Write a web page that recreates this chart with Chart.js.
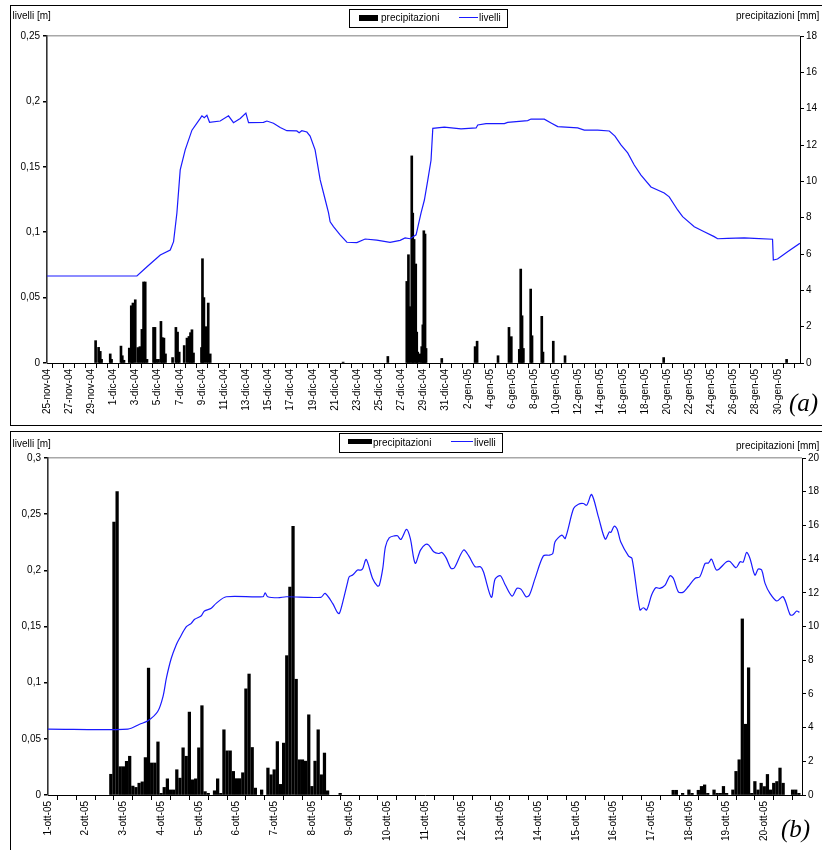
<!DOCTYPE html>
<html>
<head>
<meta charset="utf-8">
<script src="https://cdn.jsdelivr.net/npm/chart.js"></script>
<style>
  body { margin: 0; background: #fff; width: 822px; height: 850px; overflow: hidden; position: relative;
         font-family: "Liberation Sans", Arial, sans-serif; }
  canvas { position: absolute; left: 0; }
  .frame { position: absolute; border: 1.5px solid #000; box-sizing: border-box; }
  .txt { position: absolute; font-size: 10px; line-height: 12px; white-space: nowrap; color: #000; }
  .box { position: absolute; border: 1px solid #000; box-sizing: border-box; background: #fff; }
  .sw { position: absolute; background: #000; }
  .ln { position: absolute; background: #1a1aff; height: 1.3px; }
  .tag { position: absolute; font-family: "Liberation Serif", "Times New Roman", serif; font-style: italic;
         font-size: 25px; line-height: 28px; color: #000; }
</style>
</head>
<body>
<div class="frame" style="left:10px;top:5px;width:840px;height:421px"></div>
<div class="frame" style="left:10px;top:430.5px;width:840px;height:440px"></div>

<canvas id="chartA" width="822" height="428" style="top:0"></canvas>
<canvas id="chartB" width="822" height="422" style="top:428px"></canvas>

<!-- chart (a) texts / legend -->
<div class="txt" style="left:12.5px;top:10px">livelli [m]</div>
<div class="txt" style="left:736px;top:10px">precipitazioni [mm]</div>
<div class="box" style="left:349px;top:9px;width:159px;height:18.5px"></div>
<div class="sw" style="left:359px;top:14.7px;width:19px;height:6.5px"></div>
<div class="txt" style="left:381px;top:12px">precipitazioni</div>
<div class="ln" style="left:458.7px;top:17.2px;width:19px"></div>
<div class="txt" style="left:479px;top:12px">livelli</div>
<div class="tag" style="left:789px;top:389px">(a)</div>

<!-- chart (b) texts / legend -->
<div class="txt" style="left:12.5px;top:437.5px">livelli [m]</div>
<div class="txt" style="left:736px;top:439.7px">precipitazioni [mm]</div>
<div class="box" style="left:339px;top:433px;width:164px;height:19.5px"></div>
<div class="sw" style="left:348.3px;top:439.3px;width:23.4px;height:4.8px"></div>
<div class="txt" style="left:373px;top:436.5px">precipitazioni</div>
<div class="ln" style="left:451px;top:441.2px;width:21.7px"></div>
<div class="txt" style="left:474px;top:436.5px">livelli</div>
<div class="tag" style="left:781px;top:815px">(b)</div>

<script>
// ---- (a) 25-nov-04 .. 31-gen-05, x in days from 25-nov-04 00:00 ----
const dateLabelsA = ['25-nov-04','27-nov-04','29-nov-04','1-dic-04','3-dic-04','5-dic-04','7-dic-04',
  '9-dic-04','11-dic-04','13-dic-04','15-dic-04','17-dic-04','19-dic-04','21-dic-04','23-dic-04',
  '25-dic-04','27-dic-04','29-dic-04','31-dic-04','2-gen-05','4-gen-05','6-gen-05','8-gen-05',
  '10-gen-05','12-gen-05','14-gen-05','16-gen-05','18-gen-05','20-gen-05','22-gen-05','24-gen-05',
  '26-gen-05','28-gen-05','30-gen-05'];

const levelDaysA = [0, 8.12, 9.03, 10.23, 11.13, 11.43, 11.73, 12.03, 12.48, 13.09, 13.84, 13.99, 14.2,
  14.44, 14.68, 15.64, 16.39, 16.84, 17.45, 17.96, 18.2, 19.55, 19.86, 20.45, 21.06, 21.66, 22.56,
  22.77, 23.01, 23.47, 23.76, 24.21, 24.67, 25.12, 25.42, 25.57, 25.87, 26.47, 27.08, 27.98, 28.73,
  29.78, 30.98, 31.89, 32.34, 32.79, 33.33, 33.78, 34.08, 34.39, 34.68, 34.84, 35.88, 37.39, 38.75,
  38.9, 39.65, 41.3, 41.6, 43.41, 43.71, 44.91, 45.52, 46.12, 47.92, 48.52, 49.73, 50.78, 51.29,
  51.83, 52.44, 53.03, 53.64, 54.54, 55.74, 56.19, 56.95, 57.4, 58.45, 59.35, 60.25, 60.56, 61.46,
  62.96, 63.86, 65.52, 65.59, 65.97, 66.88, 67.99];
const levelA = [0.0665, 0.0665, 0.0736, 0.0826, 0.0864, 0.0928, 0.1147, 0.1476, 0.163, 0.178, 0.187,
  0.189, 0.1875, 0.1893, 0.184, 0.185, 0.189, 0.1837, 0.187, 0.191, 0.1837, 0.184, 0.185, 0.1833, 0.18,
  0.1776, 0.1774, 0.176, 0.1776, 0.1766, 0.1735, 0.163, 0.14, 0.125, 0.115, 0.108, 0.1042, 0.0979,
  0.0923, 0.092, 0.0948, 0.094, 0.0923, 0.0938, 0.0956, 0.095, 0.098, 0.1147, 0.1246, 0.14, 0.155,
  0.1794, 0.1804, 0.179, 0.1797, 0.182, 0.183, 0.183, 0.184, 0.1853, 0.1865, 0.1864, 0.1835, 0.1807,
  0.1797, 0.178, 0.178, 0.1774, 0.1735, 0.1667, 0.1606, 0.1514, 0.1437, 0.1346, 0.13, 0.127, 0.117,
  0.1119, 0.1042, 0.1004, 0.0966, 0.095, 0.0953, 0.0956, 0.0953, 0.0946, 0.0787, 0.0795, 0.0851, 0.0915];

const rainDaysA = [4.39, 4.66, 4.81, 4.93, 5.71, 5.83, 6.68, 6.8, 6.95, 7.43, 7.61, 7.7, 7.76, 7.97,
  8.21, 8.39, 8.57, 8.72, 8.87, 9.03, 9.62, 9.75, 9.89, 10.07, 10.29, 10.41, 10.56, 10.7, 11.34, 11.64,
  11.79, 11.94, 12.39, 12.64, 12.82, 12.96, 13.09, 13.23, 13.95, 14.04, 14.17, 14.38, 14.56, 14.74,
  26.74, 30.78, 32.49, 32.64, 32.76, 32.94, 33.03, 33.15, 33.3, 33.39, 33.48, 33.69, 33.84, 33.94,
  34.03, 34.14, 34.23, 35.65, 38.66, 38.84, 40.73, 41.72, 41.93, 42.65, 42.78, 42.9, 43.02, 43.68,
  43.8, 44.68, 44.79, 45.72, 46.78, 55.69, 66.79];
const rainA = [1.23, 0.86, 0.64, 0.2, 0.5, 0.2, 0.93, 0.4, 0.15, 0.82, 3.15, 1.83, 3.3, 3.48,
  0.85, 0.9, 1.85, 4.46, 4.46, 0.2, 1.96, 1.96, 0.2, 0.2, 2.29, 1.4, 1.37, 0.5, 0.3, 1.96,
  1.7, 0.6, 0.96, 1.37, 1.46, 1.67, 1.83, 0.55, 0.85, 5.74, 3.6, 2.0, 3.3, 0.5,
  0.05, 0.36, 4.49, 5.96, 3.1, 11.4, 8.25, 6.8, 5.45, 1.7, 0.6, 0.5, 0.9, 2.1,
  7.28, 7.1, 0.8, 0.25, 0.9, 1.2, 0.4, 1.96, 1.45, 0.75, 5.17, 2.6, 0.8, 4.07,
  1.5, 2.57, 0.6, 1.2, 0.4, 0.3, 0.2];

// ---- (b) 1-ott-05 .. 20-ott-05, x in days from 1-ott-05 00:00 ----
const dateLabelsB = ['1-ott-05','2-ott-05','3-ott-05','4-ott-05','5-ott-05','6-ott-05','7-ott-05',
  '8-ott-05','9-ott-05','10-ott-05','11-ott-05','12-ott-05','13-ott-05','14-ott-05','15-ott-05',
  '16-ott-05','17-ott-05','18-ott-05','19-ott-05','20-ott-05'];

const levelDaysB = [0, 2.12, 2.43, 2.65, 2.91, 3.05, 3.14, 3.27, 3.4, 3.49, 3.67, 3.8, 3.89, 4.06, 4.15,
  4.33, 4.46, 4.73, 5.7, 5.76, 5.83, 6.1, 6.32, 7.24, 7.35, 7.55, 7.68, 7.73, 7.82, 7.95, 7.99, 8.08,
  8.21, 8.3, 8.35, 8.44, 8.61, 8.74, 8.79, 8.88, 8.95, 9.05, 9.19, 9.27, 9.36, 9.51, 9.61, 9.74, 9.88,
  10.01, 10.1, 10.23, 10.36, 10.45, 10.56, 10.69, 10.78, 11.02, 11.16, 11.33, 11.47, 11.55, 11.76,
  11.86, 12.0, 12.13, 12.31, 12.44, 12.55, 12.68, 12.77, 12.92, 13.14, 13.3, 13.39, 13.45, 13.63,
  13.72, 13.94, 14.07, 14.2, 14.29, 14.42, 14.6, 14.78, 14.89, 14.93, 15.02, 15.1, 15.19, 15.4,
  15.49, 15.7, 15.79, 15.88, 16.01, 16.12, 16.23, 16.37, 16.5, 16.59, 16.72, 16.84, 16.98, 17.16,
  17.29, 17.43, 17.52, 17.6, 17.74, 18.0, 18.09, 18.25, 18.36, 18.44, 18.53, 18.62, 18.75, 18.84,
  18.93, 19.02, 19.15, 19.33, 19.5, 19.68, 19.75, 19.86, 19.93];
const levelB = [0.0587, 0.0587, 0.063, 0.066, 0.0743, 0.0876, 0.104, 0.1217, 0.1336, 0.1395, 0.1498,
  0.1528, 0.1564, 0.1593, 0.1638, 0.1662, 0.1706, 0.1765, 0.1765, 0.18, 0.1765, 0.1756, 0.1765, 0.176,
  0.1795, 0.1706, 0.1623, 0.1617, 0.172, 0.1898, 0.1943, 0.1958, 0.2002, 0.2002, 0.2017, 0.2097,
  0.1928, 0.186, 0.1869, 0.2017, 0.2209, 0.2289, 0.2307, 0.2307, 0.2275, 0.2364, 0.2284, 0.2062, 0.218,
  0.223, 0.2224, 0.2165, 0.215, 0.2159, 0.2111, 0.2017, 0.2023, 0.218, 0.2129, 0.2032, 0.2032, 0.1987,
  0.176, 0.1922, 0.1952, 0.1869, 0.1771, 0.184, 0.1831, 0.1765, 0.178, 0.1928, 0.2129, 0.2135, 0.215,
  0.2254, 0.2313, 0.2284, 0.255, 0.2589, 0.2595, 0.258, 0.2675, 0.2476, 0.2278, 0.2343, 0.2337,
  0.2393, 0.2364, 0.2254, 0.2127, 0.2106, 0.1647, 0.1667, 0.1647, 0.178, 0.1845, 0.184, 0.1869,
  0.1952, 0.1928, 0.1809, 0.1804, 0.1854, 0.1928, 0.1943, 0.2062, 0.2065, 0.21, 0.2002, 0.2076,
  0.2079, 0.2023, 0.2076, 0.2073, 0.2159, 0.2106, 0.1958, 0.2011, 0.2002, 0.1884, 0.1795, 0.1727,
  0.1765, 0.1608, 0.1602, 0.1638, 0.1626];

// rain (b) every 2 hours: hour from 1-ott-05 00:00
const rainHoursB = [40, 42, 44, 46, 48, 50, 52, 54, 56, 58, 60, 62, 64, 66, 68, 70, 72, 74, 76, 78, 80,
  82, 84, 86, 88, 90, 92, 94, 96, 98, 100, 102, 106, 108, 110, 112, 114, 116, 118, 120, 122, 124, 126,
  128, 130, 132, 136, 140, 142, 144, 146, 148, 150, 152, 154, 156, 158, 160, 162, 164, 166, 168, 170,
  172, 174, 176, 178, 186,
  398, 400, 404, 408, 410, 414, 416, 418, 420, 424, 426, 428, 430, 432, 436, 438, 440, 442, 444, 446,
  448, 450, 452, 454, 456, 458, 460, 462, 464, 466, 468, 474, 476, 478];
const rainB = [1.23, 16.2, 18.0, 1.68, 1.68, 2.0, 2.3, 0.53, 0.45, 0.7, 0.78, 2.22, 7.53, 1.9, 1.9,
  3.15, 0.1, 0.45, 0.96, 0.3, 0.3, 1.5, 1.0, 2.8, 2.3, 4.92, 0.9, 0.96, 2.8, 5.3, 0.2, 0.1, 0.25,
  0.96, 0.1, 3.87, 2.62, 2.62, 1.4, 0.97, 0.97, 1.32, 6.3, 7.18, 2.82, 0.41, 0.3, 1.6, 1.2, 1.5, 3.17,
  0.63, 3.08, 8.27, 12.34, 15.95, 6.87, 2.09, 2.09, 2.01, 4.76, 0.51, 2.01, 3.87, 1.2, 2.49, 0.25, 0.1,
  0.28, 0.28, 0.1, 0.3, 0.1, 0.28, 0.51, 0.6, 0.1, 0.3, 0.1, 0.1, 0.51, 0.1, 0.3, 1.4, 2.09, 10.45,
  4.2, 7.55, 0.1, 0.8, 0.3, 0.7, 0.5, 1.22, 0.3, 0.7, 0.8, 1.6, 0.7, 0.3, 0.3, 0.1];

Chart.defaults.font.family = '"Liberation Sans", Arial, sans-serif';
Chart.defaults.font.size = 10;
Chart.defaults.color = '#000';

const comma = v => (Math.round(v * 1000) / 1000).toString().replace('.', ',');

function makeChart(id, o) {
  const ctx = document.getElementById(id).getContext('2d');
  return new Chart(ctx, {
    type: 'bar',
    data: {
      datasets: [{
        type: 'line',
        label: 'livelli',
        data: o.levelX.map((x, i) => ({ x: x, y: o.level[i] })),
        borderColor: '#1a1aff',
        borderWidth: 1.2,
        pointRadius: 0,
        tension: o.tension,
        yAxisID: 'y',
        order: 0
      }, {
        type: 'bar',
        label: 'precipitazioni',
        data: o.rainX.map((x, i) => ({ x: x, y: o.rain[i] })),
        backgroundColor: '#000',
        barThickness: o.barW,
        yAxisID: 'y2',
        order: 1
      }]
    },
    options: {
      responsive: false,
      animation: false,
      events: [],
      layout: { padding: { top: o.top, left: 0, right: 0, bottom: 0 } },
      plugins: { legend: { display: false }, tooltip: { enabled: false } },
      scales: {
        x: {
          type: 'linear', offset: false, min: 0, max: o.xMax,
          grid: { drawOnChartArea: false, tickLength: 5, tickColor: '#000' },
          border: { color: '#000', width: 1 },
          ticks: {
            stepSize: o.xStep, autoSkip: false, maxRotation: 90, minRotation: 90, padding: 1,
            includeBounds: false,
            callback: o.xLabel
          },
          afterFit: s => { s.height = o.xH; }
        },
        y: {
          position: 'left', min: 0, max: o.yMax,
          grid: {
            tickLength: 4, tickColor: '#000', lineWidth: 1.5,
            color: c => (c.tick && Math.abs(c.tick.value - o.yMax) < 1e-9) ? '#a8a8a8' : 'rgba(0,0,0,0)'
          },
          border: { color: '#333', width: 1.6 },
          ticks: { stepSize: o.yStep, padding: 3, callback: v => comma(v) },
          afterFit: s => { s.width = o.left; }
        },
        y2: {
          position: 'right', min: 0, max: o.y2Max,
          grid: { drawOnChartArea: false, tickLength: 4, tickColor: '#000' },
          border: { color: '#000', width: 1 },
          ticks: { stepSize: 2, padding: 2 },
          afterFit: s => { s.width = o.right; }
        }
      }
    }
  });
}

makeChart('chartA', {
  levelX: levelDaysA, level: levelA,
  rainX: rainDaysA, rain: rainA,
  tension: 0, barW: 2,
  xMax: 68, xStep: 1,
  xLabel: v => (v % 2 === 0 && v / 2 < dateLabelsA.length) ? dateLabelsA[v / 2] : '',
  yMax: 0.25, yStep: 0.05, y2Max: 18,
  top: 36, xH: 65, left: 47, right: 22
});

makeChart('chartB', {
  levelX: levelDaysB, level: levelB,
  rainX: rainHoursB.map(h => h / 24), rain: rainB,
  tension: 0.3, barW: 2.6,
  xMax: 20, xStep: 0.5,
  xLabel: v => (Number.isInteger(v) && v < dateLabelsB.length) ? dateLabelsB[v] : '',
  yMax: 0.3, yStep: 0.05, y2Max: 20,
  top: 30, xH: 55, left: 48, right: 20
});
</script>
</body>
</html>
